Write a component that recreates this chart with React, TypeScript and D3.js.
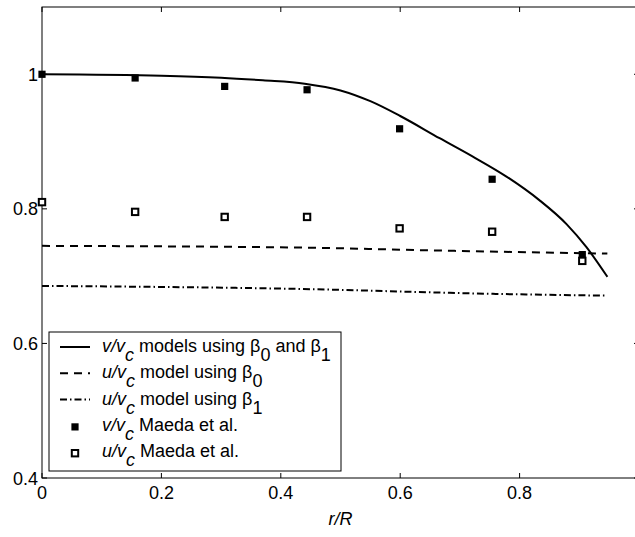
import React from "react";
import * as d3 from "d3";

const W = 635;
const H = 537;

// Model curves
const vModelX = [0, 0.2, 0.3, 0.37, 0.44, 0.5, 0.55, 0.6, 0.666, 0.721, 0.778, 0.833, 0.879, 0.912, 0.947];
const vModelY = [1.0, 0.998, 0.995, 0.991, 0.986, 0.976, 0.96, 0.938, 0.905, 0.878, 0.848, 0.813, 0.777, 0.743, 0.699];

const uModel0X = [0, 0.43, 0.667, 0.947];
const uModel0Y = [0.745, 0.7425, 0.738, 0.7335];

const uModel1X = [0, 0.43, 0.76, 0.947];
const uModel1Y = [0.6855, 0.681, 0.6736, 0.671];

// Maeda et al. measurements
const maedaX = [0, 0.156, 0.306, 0.444, 0.599, 0.754, 0.905];
const maedaV = [1.0, 0.9945, 0.982, 0.977, 0.919, 0.844, 0.732];
const maedaU = [0.81, 0.7955, 0.788, 0.788, 0.771, 0.766, 0.7227];

const xTicks = [0, 0.2, 0.4, 0.6, 0.8, 1];
const yTicks = [0.4, 0.6, 0.8, 1];
const xTickLabels = ["0", "0.2", "0.4", "0.6", "0.8", ""];
const yTickLabels = ["0.4", "0.6", "0.8", "1"];

const FONT = "'Liberation Sans', Arial, Helvetica, sans-serif";

export default function App() {
  const left = 42, right = 639, top = 7, bottom = 478;
  const x = d3.scaleLinear().domain([0, 1]).range([left, right]);
  const y = d3.scaleLinear().domain([0.4, 1.1]).range([bottom, top]);

  const line = d3
    .line<[number, number]>()
    .x((d) => x(d[0]))
    .y((d) => y(d[1]))
    .curve(d3.curveMonotoneX);

  const vPath = line(vModelX.map((v, i) => [v, vModelY[i]]) as [number, number][]) || "";
  const u0Path = line(uModel0X.map((v, i) => [v, uModel0Y[i]]) as [number, number][]) || "";
  const u1Path = line(uModel1X.map((v, i) => [v, uModel1Y[i]]) as [number, number][]) || "";

  const tick = 5;
  const fs = 18;

  const legendX = 49, legendY = 332, legendW = 292, legendH = 139;
  const rowBase = (i: number) => 352 + i * 26.3;
  const textX = 102;
  const sub = 9;

  const legendLabel = (kind: "v" | "u", rest: React.ReactNode) => (
    <>
      <tspan fontStyle="italic">{kind}/v</tspan>
      <tspan fontStyle="italic" dy={sub}>c</tspan>
      <tspan dy={-sub}>{rest}</tspan>
    </>
  );

  return (
    <svg width={W} height={H} style={{ position: "absolute", left: 0, top: 0, background: "#fff", fontFamily: FONT }}>
      <rect x={0} y={0} width={W} height={H} fill="#fff" />
      {/* axes box */}
      <rect x={left} y={top} width={right - left} height={bottom - top} fill="none" stroke="#000" strokeWidth={1} />
      {/* ticks */}
      {xTicks.map((t, i) => (
        <g key={"xt" + i}>
          <line x1={x(t)} x2={x(t)} y1={bottom} y2={bottom - tick} stroke="#000" />
          <line x1={x(t)} x2={x(t)} y1={top} y2={top + tick} stroke="#000" />
          {xTickLabels[i] ? (
            <text x={x(t)} y={499} fontSize={fs} textAnchor="middle">{xTickLabels[i]}</text>
          ) : null}
        </g>
      ))}
      {yTicks.map((t, i) => (
        <g key={"yt" + i}>
          <line x1={left} x2={left + tick} y1={y(t)} y2={y(t)} stroke="#000" />
          <line x1={right} x2={right - tick} y1={y(t)} y2={y(t)} stroke="#000" />
          <text x={38} y={y(t) + 6.5} fontSize={fs} textAnchor="end">{yTickLabels[i]}</text>
        </g>
      ))}
      <text x={(left + right) / 2} y={525} fontSize={fs} textAnchor="middle" fontStyle="italic">r/R</text>

      {/* model curves */}
      <path d={vPath} fill="none" stroke="#000" strokeWidth={2} />
      <path d={u0Path} fill="none" stroke="#000" strokeWidth={2} strokeDasharray="8,6" />
      <path d={u1Path} fill="none" stroke="#000" strokeWidth={2} strokeDasharray="7,3,1.5,3" />

      {/* data markers */}
      {maedaX.map((mx, i) => (
        <rect key={"v" + i} x={x(mx) - 3.6} y={y(maedaV[i]) - 3.6} width={7.2} height={7.2} fill="#000" />
      ))}
      {maedaX.map((mx, i) => (
        <rect key={"u" + i} x={x(mx) - 3.2} y={y(maedaU[i]) - 3.2} width={6.4} height={6.4} fill="#fff" stroke="#000" strokeWidth={2} />
      ))}

      {/* legend */}
      <rect x={legendX} y={legendY} width={legendW} height={legendH} fill="#fff" stroke="#000" strokeWidth={1} />
      <line x1={60} x2={90} y1={rowBase(0) - 5} y2={rowBase(0) - 5} stroke="#000" strokeWidth={2} />
      <line x1={60} x2={90} y1={rowBase(1) - 5} y2={rowBase(1) - 5} stroke="#000" strokeWidth={2} strokeDasharray="8,6" />
      <line x1={60} x2={90} y1={rowBase(2) - 5} y2={rowBase(2) - 5} stroke="#000" strokeWidth={2} strokeDasharray="7,3,1.5,3" />
      <rect x={75 - 3.6} y={rowBase(3) - 4 - 3.6} width={7.2} height={7.2} fill="#000" />
      <rect x={75 - 3.2} y={rowBase(4) - 4 - 3.2} width={6.4} height={6.4} fill="#fff" stroke="#000" strokeWidth={2} />

      <text x={textX} y={rowBase(0)} fontSize={fs}>
        {legendLabel("v", <>
          {" models using β"}
          <tspan dy={sub}>0</tspan>
          <tspan dy={-sub}>{" and β"}</tspan>
          <tspan dy={sub}>1</tspan>
        </>)}
      </text>
      <text x={textX} y={rowBase(1)} fontSize={fs}>
        {legendLabel("u", <>
          {" model using β"}
          <tspan dy={sub}>0</tspan>
        </>)}
      </text>
      <text x={textX} y={rowBase(2)} fontSize={fs}>
        {legendLabel("u", <>
          {" model using β"}
          <tspan dy={sub}>1</tspan>
        </>)}
      </text>
      <text x={textX} y={rowBase(3)} fontSize={fs}>
        {legendLabel("v", " Maeda et al.")}
      </text>
      <text x={textX} y={rowBase(4)} fontSize={fs}>
        {legendLabel("u", " Maeda et al.")}
      </text>
    </svg>
  );
}
